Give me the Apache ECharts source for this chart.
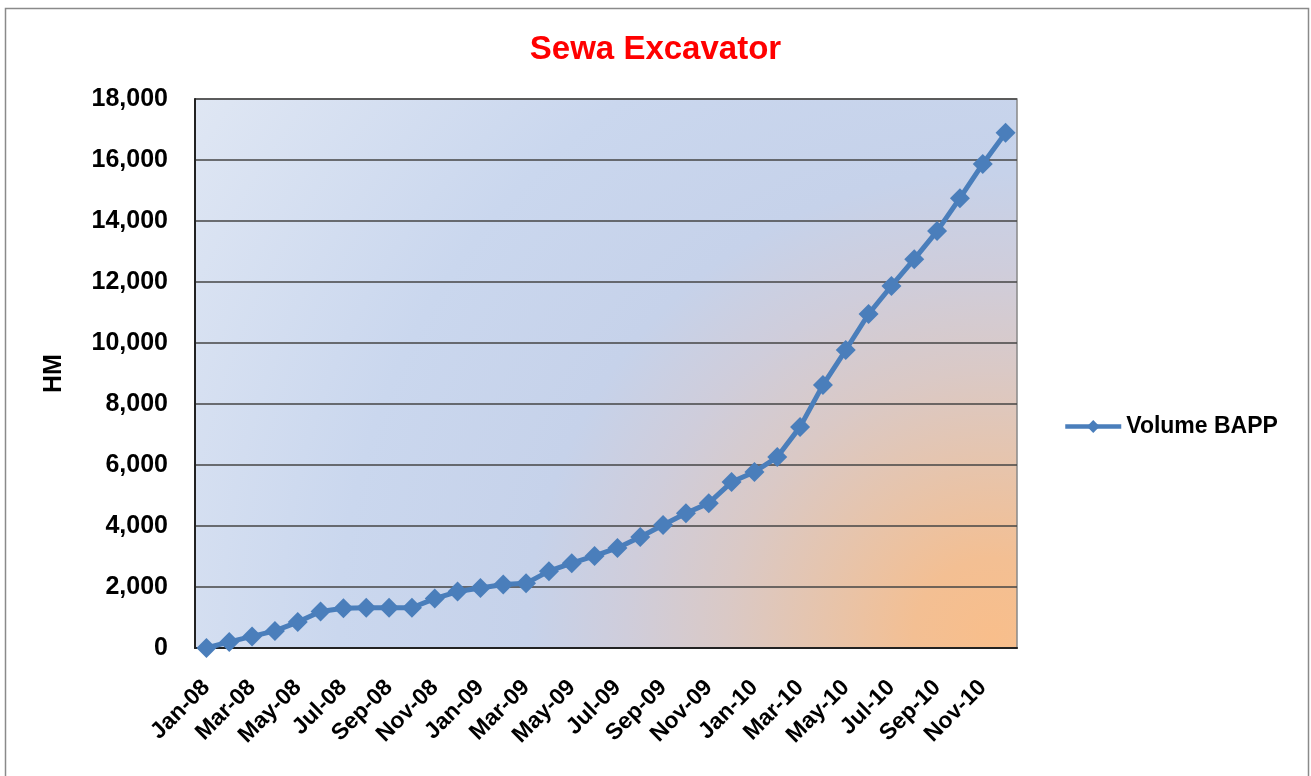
<!DOCTYPE html>
<html>
<head>
<meta charset="utf-8">
<script src="https://cdn.jsdelivr.net/npm/echarts@6/dist/echarts.min.js"></script>
<style>
  html, body { margin: 0; padding: 0; background: #fff; }
  #chart { width: 1311px; height: 776px; }
</style>
</head>
<body>
<div id="chart"></div>
<script>
const months = [
  'Jan-08', 'Feb-08', 'Mar-08', 'Apr-08', 'May-08', 'Jun-08', 'Jul-08', 'Aug-08', 'Sep-08', 'Oct-08', 'Nov-08', 'Dec-08',
  'Jan-09', 'Feb-09', 'Mar-09', 'Apr-09', 'May-09', 'Jun-09', 'Jul-09', 'Aug-09', 'Sep-09', 'Oct-09', 'Nov-09', 'Dec-09',
  'Jan-10', 'Feb-10', 'Mar-10', 'Apr-10', 'May-10', 'Jun-10', 'Jul-10', 'Aug-10', 'Sep-10', 'Oct-10', 'Nov-10', 'Dec-10',
]
const volumeBapp = [
  0, 200, 380, 560, 850, 1200, 1300, 1320, 1320, 1320, 1620, 1850,
  1970, 2080, 2120, 2520, 2780, 3020, 3280, 3640, 4030, 4420, 4750, 5440,
  5770, 6260, 7250, 8620, 9770, 10950, 11870, 12750, 13670, 14750, 15870, 16890,
]
const yTicks = { min: 0, max: 18000, interval: 2000 }

const chart = echarts.init(document.getElementById('chart'))
const font = 'Arial, "Liberation Sans", sans-serif'

chart.setOption({
  animation: false,
  title: {
    text: 'Sewa Excavator',
    left: 'center',
    top: 28,
    textStyle: { color: '#ff0000', fontSize: 33, fontWeight: 'bold', fontFamily: font },
  },
  graphic: [{
    type: 'rect',
    left: 3, top: 6,
    shape: { width: 1303, height: 800 },
    style: { fill: 'none', stroke: '#8a8a8a', lineWidth: 1.5 },
    z: -10,
  }],
  legend: {
    data: ['Volume BAPP'],
    orient: 'vertical',
    left: 1058,
    top: 410,
    itemWidth: 56,
    itemHeight: 16,
    lineStyle: { width: 4.5 },
    textStyle: { color: '#000', fontSize: 23, fontWeight: 'bold', fontFamily: font },
  },
  grid: {
    left: 195, right: 294, top: 99, bottom: 128,
    show: true,
    borderColor: '#888',
    borderWidth: 1.5,
    backgroundColor: new echarts.graphic.RadialGradient(0.97, 0.98, 1.8, [
      { offset: 0, color: '#f8be8b' },
      { offset: 0.08, color: '#f3bf93' },
      { offset: 0.17, color: '#e7c4ab' },
      { offset: 0.27, color: '#dac9c6' },
      { offset: 0.37, color: '#cfcddb' },
      { offset: 0.47, color: '#c6d2ea' },
      { offset: 0.66, color: '#cad7ee' },
      { offset: 1, color: '#e1e8f4' },
    ]),
  },
  xAxis: {
    type: 'category',
    data: months,
    boundaryGap: true,
    axisLine: { lineStyle: { color: '#222', width: 2 } },
    axisTick: { show: false },
    axisLabel: {
      interval: 1,
      rotate: 45,
      margin: 36,
      color: '#000',
      fontSize: 23,
      fontWeight: 'bold',
      fontFamily: font,
    },
  },
  yAxis: {
    type: 'value',
    min: yTicks.min,
    max: yTicks.max,
    interval: yTicks.interval,
    name: 'HM',
    nameLocation: 'middle',
    nameGap: 128,
    nameTextStyle: { color: '#000', fontSize: 25, fontWeight: 'bold', fontFamily: font },
    axisLine: { show: true, lineStyle: { color: '#222', width: 2 } },
    axisTick: { show: false },
    splitLine: { lineStyle: { color: '#444', width: 1.5 } },
    axisLabel: {
      margin: 27,
      color: '#000',
      fontSize: 25,
      fontWeight: 'bold',
      fontFamily: font,
      formatter: (v) => v.toLocaleString('en-US'),
    },
  },
  series: [{
    name: 'Volume BAPP',
    type: 'line',
    data: volumeBapp,
    symbol: 'diamond',
    symbolSize: 20,
    showAllSymbol: true,
    lineStyle: { color: '#4a7ebb', width: 5 },
    itemStyle: { color: '#4a7ebb' },
  }],
})
</script>
</body>
</html>
